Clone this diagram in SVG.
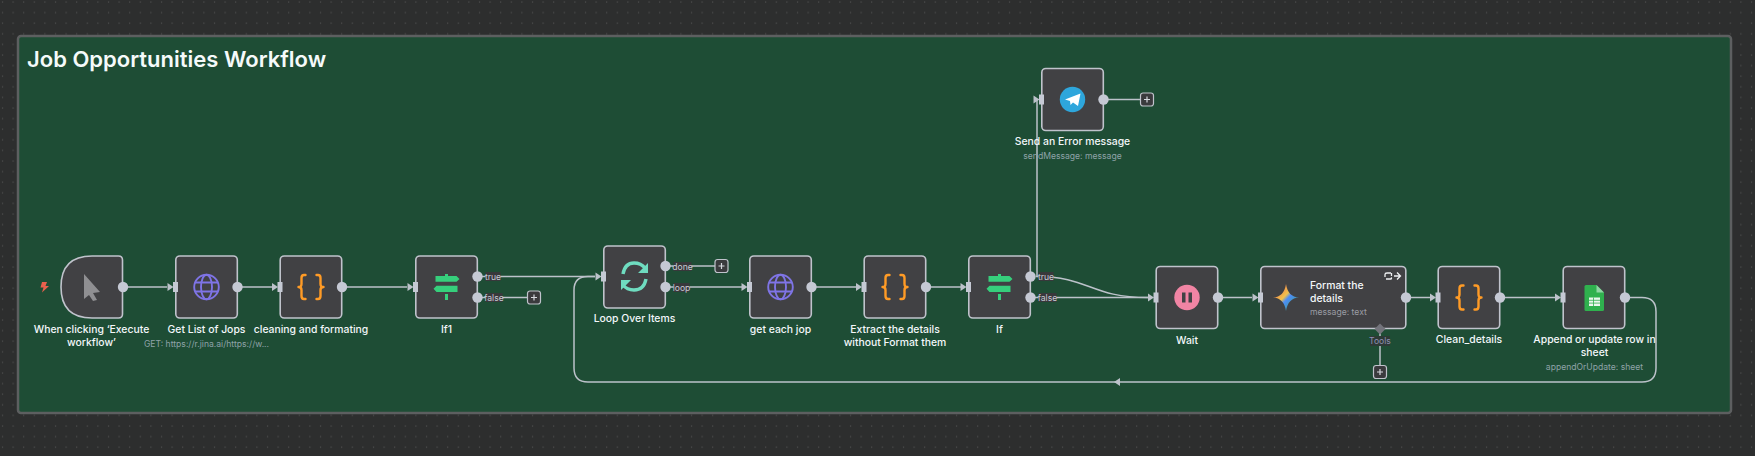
<svg xmlns="http://www.w3.org/2000/svg" width="1755" height="456" viewBox="0 0 1755 456">
<style>
text{font-family:Inter,"Liberation Sans",sans-serif}
.n{fill:#414144;stroke:#c0c3cc;stroke-width:1.6}
.l{fill:#f3f7fa;font-size:10.4px;font-weight:500;text-anchor:middle}
.s{fill:#8fa3a8;font-size:8.6px;text-anchor:middle}
.c{fill:none;stroke:#bcc2ca;stroke-width:1.5}
.o{fill:#c5c9d4}
.b{fill:#3a3a3d;stroke:#c0c3cc;stroke-width:1.2}
.p{stroke:#d5d8de;stroke-width:1.2;fill:none}
.t{fill:#c9ccd6;font-size:8.6px;text-anchor:middle}
.tb{fill:#38383b}
.cb{fill:none;stroke:#ff9b26;stroke-width:2.4;stroke-linecap:round;stroke-linejoin:round}
.g{fill:none;stroke:#7f74e6;stroke-width:1.9}
.sg{fill:#36cf7c}
</style>
<defs>
<pattern id="dots" width="10.6" height="10.6" patternUnits="userSpaceOnUse"><rect x="2" y="1.5" width="1" height="1" fill="#5c5c5c"/></pattern>
<g id="plug"><path d="M-8 -4L-2 0L-8 4Z" fill="#bcc2ca"/><rect x="-2.500" y="-5" width="5" height="10" fill="#c5c9d4"/></g>
<g id="code"><path class="cb" d="M-5.500 -12H-7Q-9.500 -12 -9.500 -9V-3Q-9.500 0 -12.500 0Q-9.500 0 -9.500 3V9Q-9.500 12 -7 12H-5.500"/><path class="cb" d="M5.500 -12H7Q9.500 -12 9.500 -9V-3Q9.500 0 12.500 0Q9.500 0 9.500 3V9Q9.500 12 7 12H5.500"/></g>
<g id="globe"><circle class="g" r="12.300"/><ellipse class="g" rx="5.500" ry="12.300"/><path class="g" d="M-11.500 -4.500H11.500M-11.500 4.500H11.500"/></g>
<g id="sign"><path class="sg" d="M-11 -11H10L13 -8L10 -5.300H-11ZM11 -1.300H-10L-13 1.800L-10 5H11ZM-1.500 -13H1.500V-11H-1.500ZM-1.500 7H1.500V13H-1.500Z"/></g>
<g id="add"><rect class="b" x="-6.500" y="-6.500" width="13" height="13" rx="2.500"/><path class="p" d="M-3 0H3M0 -3V3"/></g>
<linearGradient id="gem" x1="0" y1="0" x2="1" y2="1"><stop offset="0" stop-color="#e9554f"/><stop offset=".45" stop-color="#f2c14a"/><stop offset=".55" stop-color="#4b8df7"/><stop offset="1" stop-color="#36a85a"/></linearGradient>
</defs>
<rect width="1755" height="456" fill="#2d2e2e"/>
<rect width="1755" height="456" fill="url(#dots)"/>
<rect x="18" y="36" width="1713" height="377" rx="3" fill="#1e4d35" stroke="#5d5f60" stroke-width="2.500"/>
<text x="27" y="67" fill="#f5fafa" font-size="22" font-weight="600">Job Opportunities Workflow</text>

<g id="connectors">
<path class="c" d="M123 287H167"/>
<path class="c" d="M237 287H272"/>
<path class="c" d="M342 287H407"/>
<path class="c" d="M477 276.500H595"/>
<path class="c" d="M477 297.500H528"/>
<path class="c" d="M665 266H715"/>
<path class="c" d="M665 287H742"/>
<path class="c" d="M811 287H856"/>
<path class="c" d="M926 287H961"/>
<path class="c" d="M1036 276.500C1090 276.500 1090 297.500 1148 297.500"/>
<path class="c" d="M1030 297.500H1148"/>
<path class="c" stroke-width="1" d="M1037 276V99.500"/>
<path class="c" d="M1103 99.500H1140"/>
<path class="c" d="M1218 297.500H1252"/>
<path class="c" d="M1406 297.500H1430"/>
<path class="c" d="M1500 297.500H1555"/>
<path class="c" d="M1380 332V368"/>
<path class="c" d="M1625 297.500H1642Q1656 297.500 1656 311.500V368Q1656 382 1642 382H588Q574 382 574 368V290Q574 276.500 588 276.500H595"/>
<path d="M1114 382L1120 378V386Z" fill="#bcc2ca"/>
</g>

<g id="trigger">
<path class="n" d="M122.500 260V314Q122.500 318 118.500 318H92Q61 318 61 287Q61 256 92 256H118.500Q122.500 256 122.500 260Z"/>
<path d="M84 274L100 292L93 293L97 300L93 301L89 295L84 299Z" fill="#8f8f92"/>
<path d="M46 282H42L40.500 287.500H43.500L42 292.500L49 286H45.500L47 282Z" fill="#e9604d"/>
<circle class="o" cx="123" cy="287" r="5.200"/>
<text class="l" x="91.500" y="333">When clicking ‘Execute</text><text class="l" x="91.500" y="346">workflow’</text>
</g>
<g id="get-list">
<rect class="n" x="175.800" y="256" width="61.500" height="62" rx="4"/><use href="#plug" x="175.500" y="287"/>
<use href="#globe" x="206.500" y="287"/>
<circle class="o" cx="237.500" cy="287" r="5.200"/>
<text class="l" x="206.500" y="333">Get List of Jops</text>
<text class="s" x="206.500" y="347">GET: https://r.jina.ai/https://w...</text>
</g>
<g id="cleaning">
<rect class="n" x="280.200" y="256" width="61.500" height="62" rx="4"/><use href="#plug" x="280" y="287"/>
<use href="#code" x="311" y="287"/>
<circle class="o" cx="342" cy="287" r="5.200"/>
<text class="l" x="311" y="333">cleaning and formating</text>
</g>
<g id="if1">
<rect class="n" x="415.800" y="256" width="61.500" height="62" rx="4"/><use href="#plug" x="415.500" y="287"/>
<use href="#sign" x="446.500" y="287"/>
<circle class="o" cx="477.500" cy="276.500" r="5.200"/><circle class="o" cx="477.500" cy="297.500" r="5.200"/>
<rect class="tb" x="485.500" y="272" width="15" height="9"/><rect class="tb" x="485.500" y="293" width="17" height="9"/>
<text class="t" x="493" y="279.500">true</text><text class="t" x="494" y="300.500">false</text>
<use href="#add" x="534" y="297.500"/>
<text class="l" x="446.500" y="333">If1</text>
</g>
<g id="loop">
<rect class="n" x="603.800" y="246" width="61.500" height="62" rx="4"/><use href="#plug" x="603.500" y="276.500"/>
<path d="M623 274Q625 263 634 263Q641 263 645 268M646 279Q644 290 634 290Q627 290 623 285" fill="none" stroke="#6fdcc0" stroke-width="3.400"/>
<path d="M648 263V273H638ZM621 290V280H631Z" fill="#6fdcc0"/>
<circle class="o" cx="665.500" cy="266" r="5.200"/><circle class="o" cx="665.500" cy="287" r="5.200"/>
<rect class="tb" x="673.500" y="262" width="18" height="9"/><rect class="tb" x="673.500" y="283" width="16" height="9"/>
<text class="t" x="682.500" y="269.500">done</text><text class="t" x="681.500" y="290.500">loop</text>
<use href="#add" x="721.500" y="266"/>
<text class="l" x="634.500" y="322">Loop Over Items</text>
</g>
<g id="get-each">
<rect class="n" x="749.800" y="256" width="61.500" height="62" rx="4"/><use href="#plug" x="749.500" y="287"/>
<use href="#globe" x="780.500" y="287"/>
<circle class="o" cx="811.500" cy="287" r="5.200"/>
<text class="l" x="780.500" y="333">get each jop</text>
</g>
<g id="extract">
<rect class="n" x="864.200" y="256" width="61.500" height="62" rx="4"/><use href="#plug" x="864" y="287"/>
<use href="#code" x="895" y="287"/>
<circle class="o" cx="926" cy="287" r="5.200"/>
<text class="l" x="895" y="333">Extract the details</text><text class="l" x="895" y="346">without Format them</text>
</g>
<g id="if">
<rect class="n" x="968.800" y="256" width="61.500" height="62" rx="4"/><use href="#plug" x="968.500" y="287"/>
<use href="#sign" x="999.500" y="287"/>
<circle class="o" cx="1030.500" cy="276.500" r="5.200"/><circle class="o" cx="1030.500" cy="297.500" r="5.200"/>
<rect class="tb" x="1038.500" y="272" width="15" height="9"/><rect class="tb" x="1038.500" y="293" width="18" height="9"/>
<text class="t" x="1046" y="279.500">true</text><text class="t" x="1047.500" y="300.500">false</text>
<text class="l" x="999.500" y="333">If</text>
</g>
<g id="telegram">
<rect class="n" x="1041.800" y="68.500" width="61.500" height="62" rx="4"/><use href="#plug" x="1041.500" y="99.500"/>
<circle cx="1072.500" cy="99.500" r="12.700" fill="#2ea6dc"/>
<path d="M1065 99.500L1080.500 93.500L1078 106L1073 102.500L1070.500 105L1070 101Z" fill="#fff"/>
<circle class="o" cx="1103.500" cy="99.500" r="5.200"/>
<use href="#add" x="1147" y="99.500"/>
<text class="l" x="1072.500" y="145">Send an Error message</text>
<text class="s" x="1072.500" y="159">sendMessage: message</text>
</g>
<g id="wait">
<rect class="n" x="1156.200" y="266.500" width="61.500" height="62" rx="4"/><use href="#plug" x="1156" y="297.500"/>
<circle cx="1187" cy="297.500" r="12.700" fill="#f184a4"/>
<path d="M1182 292.500H1185.500V302.500H1182ZM1188.500 292.500H1192V302.500H1188.500Z" fill="#414144"/>
<circle class="o" cx="1218" cy="297.500" r="5.200"/>
<text class="l" x="1187" y="343.500">Wait</text>
</g>
<g id="format">
<rect class="n" x="1260.800" y="266.500" width="145" height="62" rx="4"/><use href="#plug" x="1260.500" y="297.500"/>
<path d="M1286 284Q1288 297 1299 297.500Q1288 298 1286 311Q1284 298 1273 297.500Q1284 297 1286 284Z" fill="url(#gem)"/>
<text x="1310" y="288.700" fill="#f3f7fa" font-size="10.400" font-weight="500">Format the</text>
<text x="1310" y="301.700" fill="#f3f7fa" font-size="10.400" font-weight="500">details</text>
<text x="1310" y="315" fill="#9a9ca3" font-size="8.600">message: text</text>
<path d="M1385 277V274.500Q1385 273 1387 273H1391M1391 277.500Q1392 278.500 1391 279H1386M1391.500 276V273" fill="none" stroke="#eef0f2" stroke-width="1.300"/>
<path d="M1394 276H1400M1397 272.500L1400.500 276L1397 279.500" fill="none" stroke="#eef0f2" stroke-width="1.300"/>
<path d="M1380 323.500L1385.500 329L1380 334.500L1374.500 329Z" fill="#73747c"/>
<circle class="o" cx="1406" cy="297.500" r="5.200"/>
<rect x="1370" y="336" width="20" height="10" fill="#2d3a36"/>
<text x="1380" y="343.800" fill="#8d8fb4" font-size="8.600" text-anchor="middle">Tools</text>
<use href="#add" x="1380" y="372"/>
</g>
<g id="clean">
<rect class="n" x="1438.200" y="266.500" width="61.500" height="62" rx="4"/><use href="#plug" x="1438" y="297.500"/>
<use href="#code" x="1469" y="297.500"/>
<circle class="o" cx="1500" cy="297.500" r="5.200"/>
<text class="l" x="1469" y="343">Clean_details</text>
</g>
<g id="append">
<rect class="n" x="1563.200" y="266.500" width="61.500" height="62" rx="4"/><use href="#plug" x="1563" y="297.500"/>
<path d="M1586 285Q1584.500 285 1584.500 286.500V309.500Q1584.500 311 1586 311H1602.500Q1604 311 1604 309.500V292.500L1596.500 285Z" fill="#2fb14e"/>
<path d="M1596.500 285L1604 292.500H1596.500Z" fill="#8fd6a3"/>
<path d="M1589 297.500H1600V306H1589Z" fill="#eaf6ed"/><path d="M1589 300.300H1600M1589 303.100H1600M1593.500 297.500V306" stroke="#2fb14e" stroke-width=".8"/>
<circle class="o" cx="1625" cy="297.500" r="5.200"/>
<text class="l" x="1594.500" y="343">Append or update row in</text><text class="l" x="1594.500" y="356">sheet</text>
<text class="s" x="1594.500" y="370">appendOrUpdate: sheet</text>
</g>
</svg>
